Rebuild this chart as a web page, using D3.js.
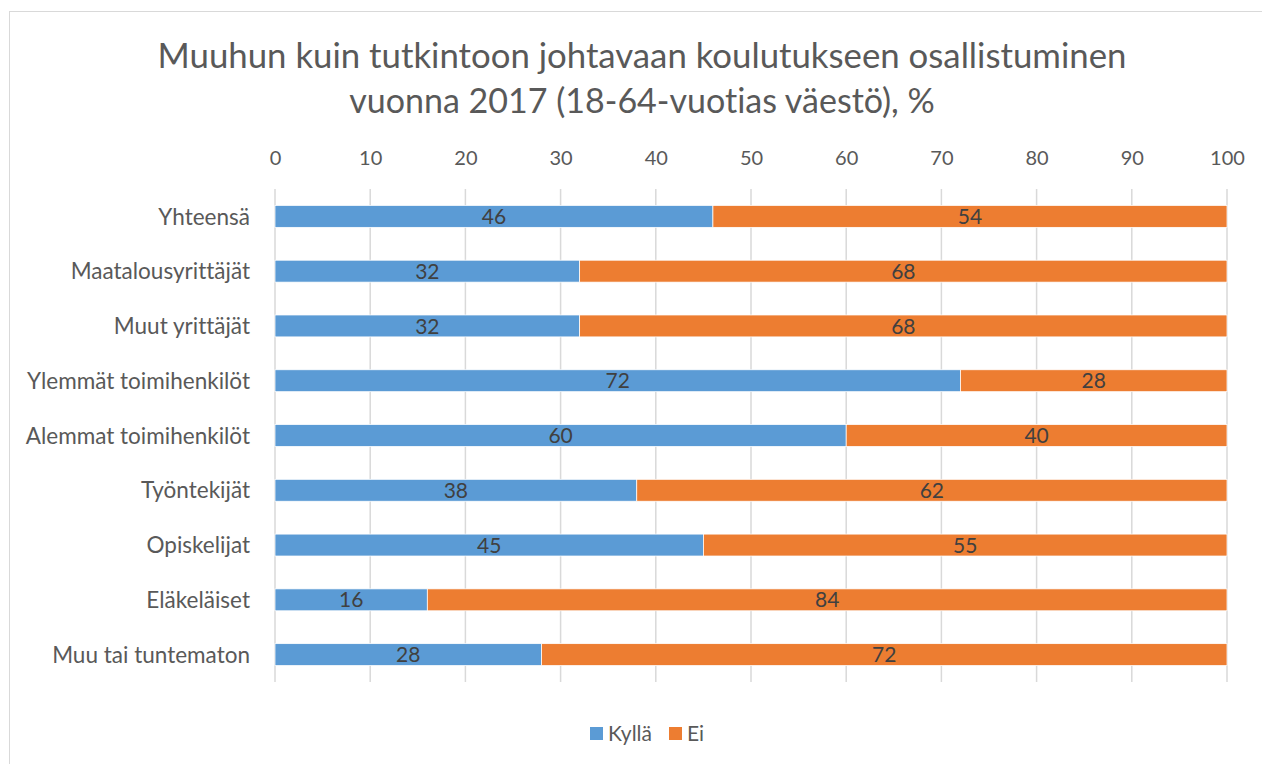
<!DOCTYPE html>
<html><head><meta charset="utf-8">
<script src="https://cdn.jsdelivr.net/npm/d3@7"></script>
<style>body{margin:0;background:#fff}svg{display:block}text{font-family:Lato,"Open Sans","Liberation Sans",sans-serif;font-variant-ligatures:none;font-feature-settings:"liga" 0}</style>
</head><body><svg id="c" width="1262" height="764"></svg>
<script>
const categories = ["Yhteensä","Maatalousyrittäjät","Muut yrittäjät","Ylemmät toimihenkilöt","Alemmat toimihenkilöt","Työntekijät","Opiskelijat","Eläkeläiset","Muu tai tuntematon"];
const kylla = [46,32,32,72,60,38,45,16,28];
const ei = [54,68,68,28,40,62,55,84,72];
const seriesNames = ["Kyllä","Ei"];
const ticks = [0,10,20,30,40,50,60,70,80,90,100];
const titleLines = ["Muuhun kuin tutkintoon johtavaan koulutukseen osallistuminen","vuonna 2017 (18-64-vuotias väestö), %"];
const colors = ["#5B9BD5","#ED7D31"];

const svg = d3.select("#c");
svg.append("rect").attr("x",9.5).attr("y",11.5).attr("width",1300).attr("height",800).attr("fill","#fff").attr("stroke","#d9d9d9");

const x = d3.scaleLinear().domain([0,100]).range([275,1227]);
const y = d3.scaleBand().domain(categories).range([189,682]).paddingInner(0.6).paddingOuter(0.3);

function fitText(sel, target){
  sel.each(function(){
    const w=this.getComputedTextLength();
    const fs=parseFloat(d3.select(this).attr("font-size"));
    d3.select(this).attr("font-size", fs*target/w);
  });
}
// title
const t1 = svg.append("text").attr("x",642).attr("y",68).attr("text-anchor","middle").attr("font-size",32).attr("fill","#595959").text(titleLines[0]);
fitText(t1, 969);
const t2 = svg.append("text").attr("x",642).attr("y",113).attr("text-anchor","middle").attr("font-size",32).attr("fill","#595959").text(titleLines[1]);
fitText(t2, 586);

// gridlines
svg.append("g").selectAll("line").data(ticks).join("line")
  .attr("x1",d=>x(d)).attr("x2",d=>x(d)).attr("y1",189).attr("y2",682)
  .attr("stroke","#d9d9d9").attr("stroke-width",1.5);

// top axis labels
const ax = svg.append("g").attr("transform","translate(0,165)").call(d3.axisTop(x).tickValues(ticks).tickSize(0).tickPadding(0));
ax.select(".domain").remove();
ax.selectAll("text").attr("font-size",20).attr("fill","#595959").attr("font-family",null);

// bars
const data = categories.map((c,i)=>({c, vals:[kylla[i],ei[i]]}));
const stack = data.map(d=>{let s=0;return d.vals.map((v,k)=>{const o={c:d.c,k,v,x0:s,x1:s+v};s+=v;return o;});}).flat();
svg.append("g").selectAll("rect").data(stack).join("rect")
  .attr("x",d=>x(d.x0)).attr("width",d=>x(d.x1)-x(d.x0))
  .attr("y",d=>y(d.c)).attr("height",y.bandwidth())
  .attr("fill",d=>colors[d.k]).attr("stroke","#fff").attr("stroke-width",0.75);
svg.append("g").selectAll("text").data(stack).join("text")
  .attr("x",d=>x((d.x0+d.x1)/2)).attr("y",d=>y(d.c)+y.bandwidth()/2).attr("dy","0.36em")
  .attr("text-anchor","middle").attr("font-size",21).attr("fill","#404040").text(d=>d.v);

// category labels
const cl = svg.append("g").selectAll("text").data(categories).join("text")
  .attr("x",250).attr("y",d=>y(d)+y.bandwidth()/2).attr("dy","0.36em")
  .attr("text-anchor","end").attr("font-size",20).attr("fill","#595959").text(d=>d);
const wLast = cl.nodes()[categories.length-1].getComputedTextLength();
cl.attr("font-size", 20*198/wLast);

// legend
const lg = svg.append("g");
const lx=[590,669];
seriesNames.forEach((s,i)=>{
  lg.append("rect").attr("x",lx[i]).attr("y",727).attr("width",13).attr("height",13).attr("fill",colors[i]);
  lg.append("text").attr("x",lx[i]+18).attr("y",733.5).attr("dy","0.36em").attr("font-size",21).attr("fill","#595959").text(s);
});
</script></body></html>
